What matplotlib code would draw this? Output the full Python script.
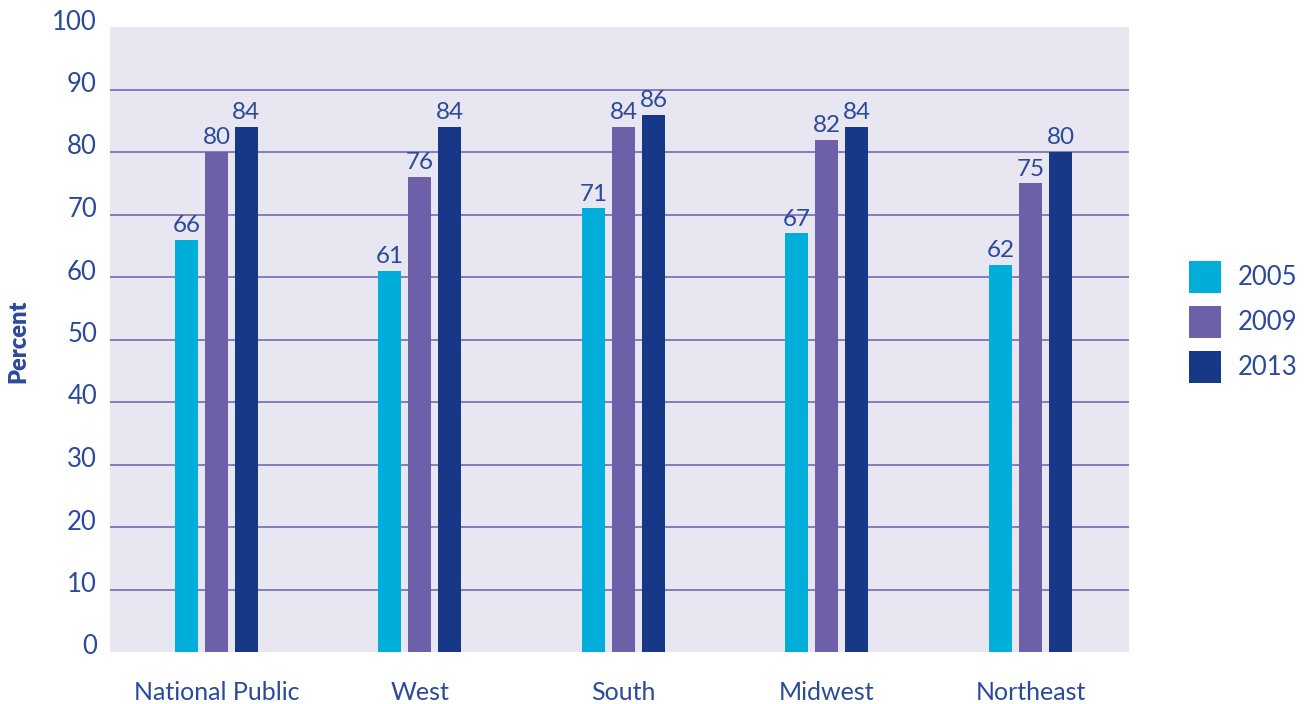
import numpy as np
import matplotlib
matplotlib.use("Agg")
import matplotlib.pyplot as plt
from matplotlib.patches import Patch
from matplotlib.transforms import ScaledTranslation

plt.rcParams['font.family'] = ['Lato', 'DejaVu Sans']

regions = ['National Public', 'West', 'South', 'Midwest', 'Northeast']
years = ['2005', '2009', '2013']
vals_2005 = [66, 61, 71, 67, 62]
vals_2009 = [80, 76, 84, 82, 75]
vals_2013 = [84, 84, 86, 84, 80]
yticks = [0, 10, 20, 30, 40, 50, 60, 70, 80, 90, 100]

colors = ['#00AED9', '#6E60A8', '#163887']
text_col = '#2B4A9A'
grid_col = '#7569B3'
bg_col = '#E8E6F1'

fig = plt.figure(figsize=(13.12, 7.04), dpi=100)
ax = fig.add_axes([110/1312, 1-652/704, (1129-110)/1312, (652-27)/704])
ax.set_facecolor(bg_col)

x = np.arange(len(regions))
width = 0.113
step = 0.1474
for i, (vals, c) in enumerate(zip([vals_2005, vals_2009, vals_2013], colors)):
    pos = x + (i - 1) * step
    ax.bar(pos, vals, width=width, color=c, zorder=3)
    for p, v in zip(pos, vals):
        ax.text(p, v + 0.6, str(v), ha='center', va='bottom', fontsize=17.5,
                color=text_col, zorder=4)

ax.set_xlim(-0.523, 4.484)
ax.set_ylim(0, 100)
ax.set_yticks(yticks)
ax.set_yticklabels([])
ax.set_xticks(x)
ax.set_xticklabels(regions)
# y labels sit a little above their gridlines
lab_tr = ax.get_yaxis_transform() + ScaledTranslation(-13/100, 5/100, fig.dpi_scale_trans)
for t in yticks:
    ax.text(0, t, str(t), transform=lab_tr, ha='right', va='center',
            fontsize=18.5, color=text_col, clip_on=False)
ax.tick_params(axis='y', length=0)
ax.tick_params(axis='x', length=0, pad=21, labelsize=18, labelcolor=text_col)
for yv in yticks[1:-1]:
    ax.axhline(yv, color=grid_col, lw=1.2, zorder=1)
for s in ax.spines.values():
    s.set_visible(False)

fig.text(18/1312, 1-341/704, 'Percent', rotation=90, ha='center', va='center',
         fontsize=17, fontweight='heavy', color=text_col)

handles = [Patch(facecolor=c, label=y) for c, y in zip(colors, years)]
fig.legend(handles=handles, loc='center left', bbox_to_anchor=(1166/1312, 1-322/704),
           frameon=False, fontsize=18.5, handlelength=1.25, handleheight=1.55,
           labelspacing=0.5, handletextpad=0.65, labelcolor=text_col)

fig.savefig('out.png', dpi=100)
